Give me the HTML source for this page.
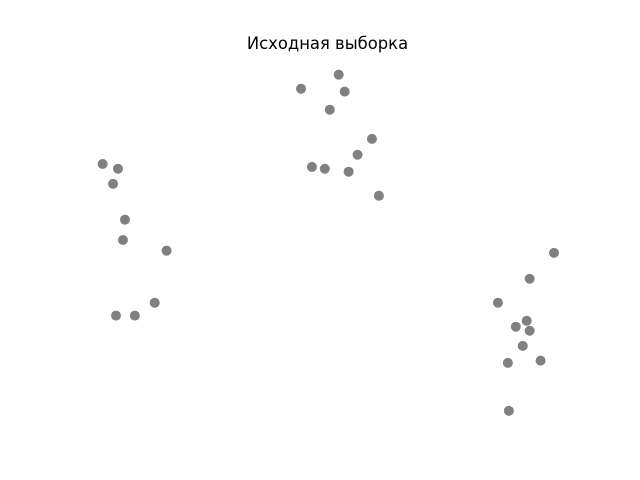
<!DOCTYPE html>
<html><head><meta charset="utf-8"><style>
body{margin:0;background:#fff;}
svg{display:block;font-family:"DejaVu Sans","Liberation Sans",sans-serif;}
</style></head><body>
<svg id="chart" width="640" height="480">
<text x="327.5" y="49" text-anchor="middle" font-size="16.4" fill="#000">Исходная выборка</text>
<g id="points"></g>
</svg>
<script>
const xValues = [44.4,52.0,53.2,50.2,58.7,55.8,46.6,49.2,54.0,60.1,
  4.4,7.5,6.5,8.9,8.5,17.3,14.9,7.1,10.9,
  95.4,90.5,84.1,89.9,87.7,90.5,89.1,86.1,92.7,86.3];
const yValues = [91.9,95.7,91.1,86.2,78.3,74.0,70.7,70.2,69.4,62.9,
  71.5,70.2,66.1,56.4,50.9,48.0,33.9,30.4,30.4,
  47.4,40.4,33.9,29.0,27.4,26.3,22.2,17.6,18.2,4.6];
function xScale(v){return 80.8 + v*4.96;}
function yScale(v){return 427.8 - v*3.69;}
const g = document.getElementById('points');
for(let i=0;i<xValues.length;i++){
  const c = document.createElementNS('http://www.w3.org/2000/svg','circle');
  c.setAttribute('cx', xScale(xValues[i]));
  c.setAttribute('cy', yScale(yValues[i]));
  c.setAttribute('r', 5);
  c.setAttribute('fill', '#808080');
  
  
  g.appendChild(c);
}
</script>
</body></html>
